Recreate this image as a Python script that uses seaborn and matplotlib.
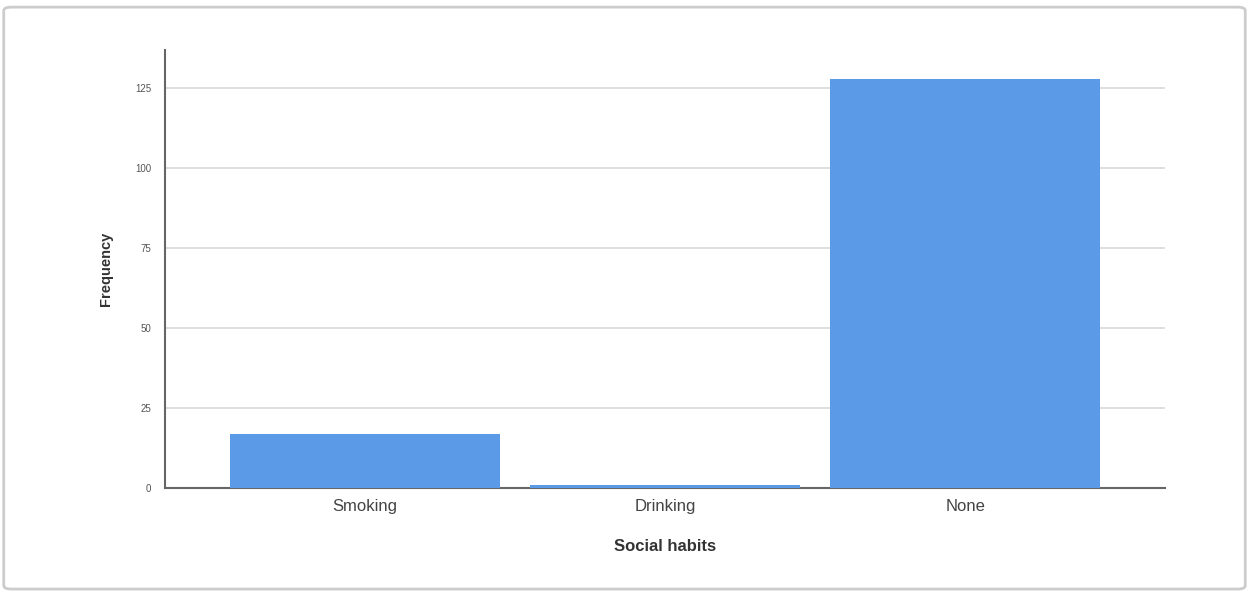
import matplotlib
matplotlib.use("Agg")
import matplotlib.pyplot as plt
import seaborn as sns
import pandas as pd
from matplotlib.patches import FancyBboxPatch

categories = ["Smoking", "Drinking", "None"]
frequency = [17, 1, 128]
y_ticks = [0, 25, 50, 75, 100, 125]

sns.set_theme(style="white")
plt.rcParams['font.family'] = ['Liberation Sans', 'DejaVu Sans']

df = pd.DataFrame({"Social habits": categories, "Frequency": frequency})

fig = plt.figure(figsize=(12.49, 5.95), dpi=100)
ax = fig.add_axes([0.132, 0.180, 0.801, 0.736])

sns.barplot(data=df, x="Social habits", y="Frequency", color="#5A9AE6",
            saturation=1, width=0.9, ax=ax, zorder=3, linewidth=0)

ax.set_xlim(-0.667, 2.667)
ax.set_ylim(0, 137)
ax.set_yticks(y_ticks)
ax.set_yticklabels([str(t) for t in y_ticks], fontsize=7, color="#555555")
ax.tick_params(axis="x", labelsize=12, colors="#444444", length=0, pad=8)
ax.tick_params(axis="y", length=0, pad=10)
ax.grid(axis="y", color="#d9d9d9", linewidth=1.2, zorder=0)
ax.set_axisbelow(True)

for s in ["top", "right"]:
    ax.spines[s].set_visible(False)
for s in ["left", "bottom"]:
    ax.spines[s].set_color("#666666")
    ax.spines[s].set_linewidth(1.5)

ax.set_xlabel("Social habits", fontsize=12, fontweight="bold", color="#333333", labelpad=18)
ax.set_ylabel("Frequency", fontsize=10.5, fontweight="bold", color="#333333", labelpad=16)

frame = FancyBboxPatch((0.003, 0.01), 0.994, 0.978, boxstyle="round,pad=0,rounding_size=0.006",
                       transform=fig.transFigure, fill=False, edgecolor="#cccccc",
                       linewidth=2, zorder=-1)
fig.patches.append(frame)

fig.savefig("out.png", dpi=100, facecolor="white")
